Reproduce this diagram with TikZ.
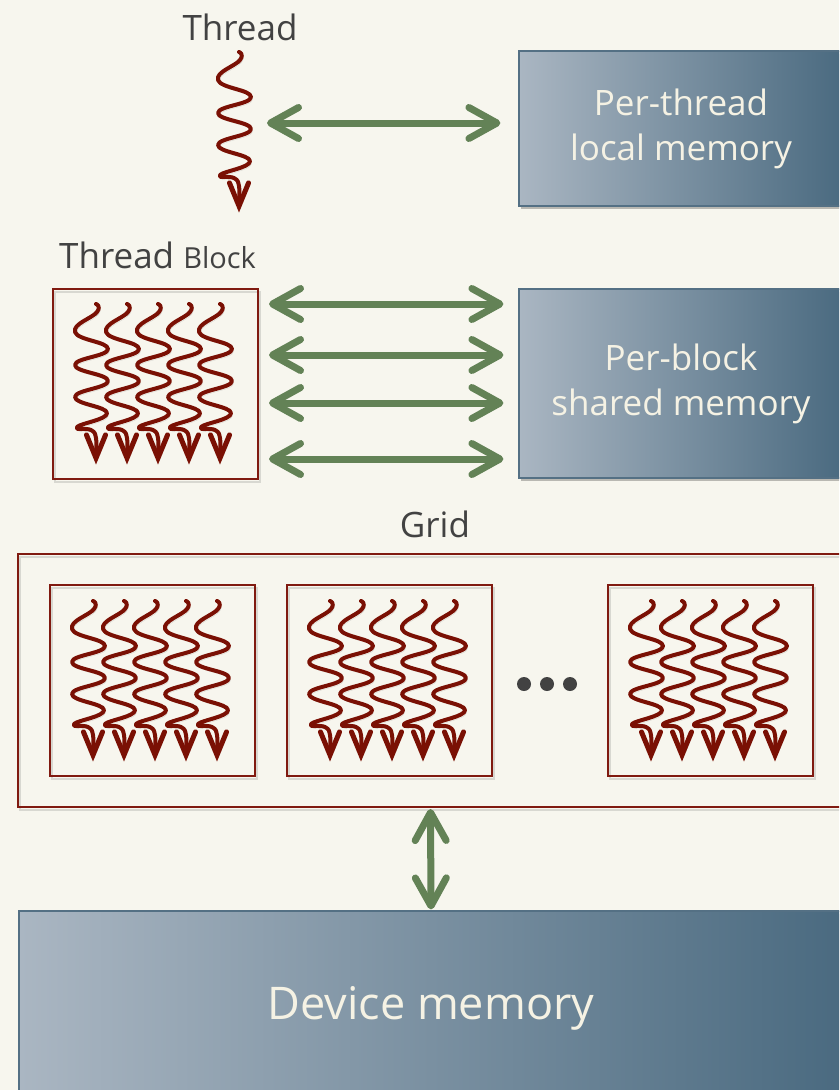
\documentclass[tikz,border=0pt]{standalone}
\usepackage{fontspec}
\setmainfont{Open Sans}
\usetikzlibrary{arrows.meta,shadows,calc}
\definecolor{bg}{RGB}{247,246,238}
\definecolor{squigred}{RGB}{122,16,4}
\definecolor{framered}{RGB}{128,26,16}
\definecolor{arrgreen}{RGB}{99,130,86}
\definecolor{lblgray}{RGB}{66,66,66}
\definecolor{memtext}{RGB}{245,242,228}
\definecolor{memleft}{RGB}{170,182,194}
\definecolor{memright}{RGB}{74,106,128}
\definecolor{memborder}{RGB}{84,112,132}
\begin{document}
\begin{tikzpicture}[x=1pt,y=-1pt,
  lshadow/.style={preaction={draw=black, draw opacity=0.12,
      transform canvas={shift={(1.5pt,-2.5pt)}}}},
  frame/.style={draw=framered, line width=2pt, fill=none, inner sep=0pt,
      lshadow},
  squig/.style={draw=squigred, line width=4pt, line cap=round, line join=round, lshadow},
  squighead/.style={draw=squigred, line width=5pt, line cap=round, line join=miter, lshadow},
  garrow/.style={draw=arrgreen, line width=7pt, lshadow,
      {Straight Barb[length=28pt,width=31pt,round]}-{Straight Barb[length=28pt,width=31pt,round]}},
  membox/.style={draw=memborder, line width=1.2pt, left color=memleft, right color=memright,
      inner sep=0pt, text=memtext, align=center,
      drop shadow={shadow xshift=2pt, shadow yshift=-3pt, opacity=0.25, fill=black}},
  lbl/.style={text=lblgray, inner sep=0pt, font=\fontsize{35}{41}\selectfont},
  thr/.pic={
    \draw[squig] plot[smooth, tension=0.8] coordinates {(0,0) (1,8) (-21,28) (12,45) (-21,61) (12,77) (-21,93) (11,109) (-19,123) (-5,126) (0,134) (0,148)};
    \draw[squighead] (-9.5,131) -- (0,154) -- (9.5,131);
  }
]
\useasboundingbox (0,0) rectangle (839,1090);
\fill[bg] (0,0) rectangle (839,1090);
\clip (0,0) rectangle (839,1090);

% labels
\node[lbl, anchor=base] (tlabel) at (240,40) {Thread};
\node[lbl, anchor=base west] (blabel) at (59,268) {Thread {\fontsize{29}{34}\selectfont Block}};
\node[lbl, anchor=base] (glabel) at (435,537) {Grid};

% memory boxes
\node[membox, minimum width=324pt, minimum height=155pt, font=\fontsize{35}{45}\selectfont]
  (mem1) at (681,128.5) {Per-thread\\local memory};
\node[membox, minimum width=324pt, minimum height=189pt, font=\fontsize{35}{45}\selectfont]
  (mem2) at (681,383.5) {Per-block\\shared memory};
\node[membox, minimum width=824pt, minimum height=195pt, font=\fontsize{45}{52}\selectfont]
  (dev) at (431,1008.5) {Device memory};

% single thread
\pic at (239,52) {thr};
\coordinate (tarr) at (267,123);
\draw[garrow, shorten >=18pt] (tarr) -- (mem1.west |- tarr);

% thread block
\node[frame, minimum width=205pt, minimum height=190pt] (blk) at (155.5,384) {};
\foreach \i in {0,...,4} { \pic at ($(blk.north west)+(44+31*\i,16)$) {thr}; }
\foreach \yy in {304,355,403,459} {
  \path (0,\yy) coordinate (ay);
  \draw[garrow, shorten <=10pt, shorten >=15pt] (blk.east |- ay) -- (mem2.west |- ay);
}

% grid
\node[frame, minimum width=825pt, minimum height=253pt] (grid) at (430.5,680.5) {};
\node[frame, minimum width=205pt, minimum height=191pt] (g1) at (152.5,680.5) {};
\node[frame, minimum width=205pt, minimum height=191pt] (g2) at (389.5,680.5) {};
\node[frame, minimum width=205pt, minimum height=191pt] (g3) at (710.5,680.5) {};
\foreach \b in {g1,g2,g3} {
  \foreach \i in {0,...,4} { \pic at ($(\b.north west)+(44+31*\i,17)$) {thr}; }
}
\fill[lblgray] (524,684) circle (7pt) (547,684) circle (7pt) (570,684) circle (7pt);

\draw[garrow, shorten <=1pt, shorten >=1pt] (grid.south) -- (dev.north);
\end{tikzpicture}
\end{document}
